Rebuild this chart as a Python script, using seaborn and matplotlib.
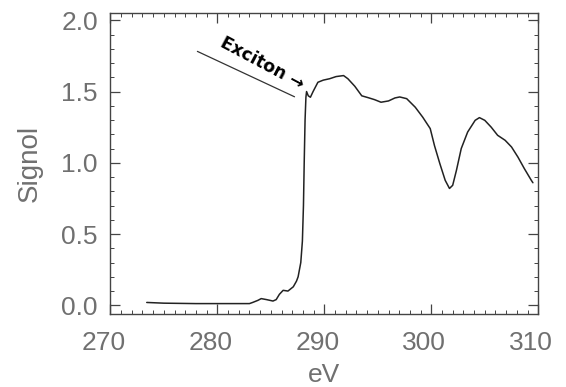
import matplotlib
matplotlib.use("Agg")
import matplotlib.pyplot as plt
import matplotlib.transforms as mtransforms
import seaborn as sns
from matplotlib.ticker import MultipleLocator

sns.set_style("white")
plt.rcParams["font.family"] = ["Liberation Sans", "DejaVu Sans"]

# Spectrum
ev = [273.4, 275.0, 278.0, 281.0, 283.0, 283.3, 283.8, 284.1, 284.6, 285.2,
      285.5, 285.8, 286.15, 286.6, 287.1, 287.4, 287.55, 287.8, 287.95, 288.05,
      288.12, 288.2, 288.28, 288.34, 288.5, 288.7, 288.95, 289.4, 289.9, 290.5,
      291.1, 291.8, 292.2, 292.85, 293.5, 294.1, 294.7, 295.3, 296.0, 296.6,
      297.05, 297.7, 298.5, 299.2, 299.9, 300.3, 300.8, 301.3, 301.7, 302.0,
      302.35, 302.8, 303.4, 304.1, 304.5, 305.0, 305.6, 306.2, 306.9, 307.5,
      308.1, 308.7, 309.35, 309.5]
signal = [0.02, 0.015, 0.012, 0.012, 0.012, 0.02, 0.035, 0.047, 0.04, 0.03,
          0.04, 0.077, 0.105, 0.10, 0.13, 0.17, 0.2, 0.3, 0.45, 0.7,
          1.0, 1.3, 1.46, 1.50, 1.47, 1.46, 1.50, 1.565, 1.58, 1.59,
          1.605, 1.612, 1.59, 1.537, 1.47, 1.457, 1.443, 1.425, 1.434, 1.455,
          1.462, 1.45, 1.39, 1.32, 1.24, 1.12, 0.994, 0.877, 0.82, 0.842,
          0.947, 1.10, 1.216, 1.298, 1.317, 1.298, 1.25, 1.193, 1.158, 1.111,
          1.04, 0.959, 0.877, 0.86]

label_color = "#707070"
axis_color = "#444444"

fig = plt.figure(figsize=(5.66, 3.87), dpi=100)
ax = fig.add_axes([0.195, 0.189, 0.756, 0.777])

sns.lineplot(x=ev, y=signal, ax=ax, color="#222222", linewidth=1.1)

ax.set_xlim(270, 310)
ax.set_ylim(-0.06, 2.05)
ax.xaxis.set_major_locator(MultipleLocator(10))
ax.xaxis.set_minor_locator(MultipleLocator(1))
ax.yaxis.set_major_locator(MultipleLocator(0.5))
ax.yaxis.set_minor_locator(MultipleLocator(0.1))
ax.xaxis.set_major_formatter(lambda v, p: f"{v:.0f}")
ax.yaxis.set_major_formatter(lambda v, p: f"{v:.1f}")

ax.tick_params(which="both", direction="in", top=True, right=True,
               bottom=True, left=True, colors=axis_color,
               labelcolor=label_color, labelsize=19)
ax.tick_params(which="major", length=7, width=0.9)
ax.tick_params(which="minor", length=3, width=0.7)
ax.tick_params(axis="x", pad=12)
ax.tick_params(axis="y", pad=9)
for s in ax.spines.values():
    s.set_color(axis_color)
    s.set_linewidth(1.0)

# x labels sit a little left of their ticks in the original
shift = mtransforms.ScaledTranslation(-7 / 100, 0, fig.dpi_scale_trans)
for lab in ax.get_xticklabels():
    lab.set_transform(lab.get_transform() + shift)

ax.set_xlabel("eV", fontsize=19, color=label_color, labelpad=6)
ax.set_ylabel("Signol", fontsize=20, color=label_color, labelpad=13)

# Exciton label
ax.annotate("", xy=(287.45, 1.455), xytext=(277.9, 1.79),
            arrowprops=dict(arrowstyle="-", color="#333333", lw=0.9))
ax.text(284.2, 1.70, "Exciton \u2192", rotation=-28, rotation_mode="anchor",
        ha="center", va="center", fontsize=12.5, fontweight="bold",
        family="DejaVu Sans", color="black")

plt.savefig("out.png", dpi=100)
plt.close()
